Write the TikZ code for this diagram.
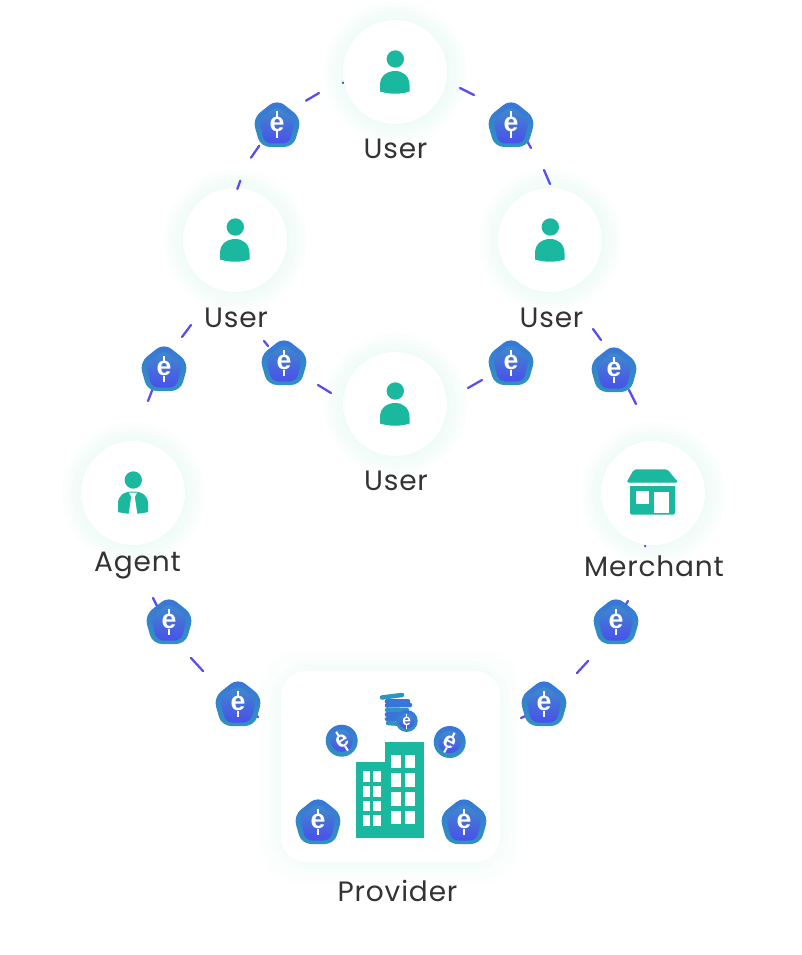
\documentclass[tikz,border=0pt]{standalone}
\usepackage{fontspec}
\setmainfont[LetterSpace=3]{Poppins}
\newfontfamily\coinfont{Liberation Sans}
\definecolor{tealc}{HTML}{1BB8A0}
\definecolor{dashc}{HTML}{5A4CF0}
\definecolor{inkc}{HTML}{333333}
\definecolor{glowc}{HTML}{EFFBF8}
\definecolor{coinA}{HTML}{3A74DA}
\definecolor{coinB}{HTML}{2E94C0}
\definecolor{coinC}{HTML}{3F8CCB}
\definecolor{coinD}{HTML}{4A50EA}
\pgfdeclareradialshading{glowshade}{\pgfpointorigin}{
  color(0bp)=(glowc); color(17bp)=(glowc); color(21bp)=(glowc!60!white); color(25bp)=(white)}
\tikzset{
  glow/.style={shading=glowshade,draw=none},
  disc/.style={circle,fill=white,minimum size=78pt,inner sep=0pt},
  lab/.style={font=\fontsize{21}{25}\selectfont,text=inkc,inner sep=0pt},
  seg/.style={draw=dashc,line width=1.7pt,line cap=round},
  icon/.style={fill=tealc,draw=none},
  hole/.style={fill=white,draw=none},
  coinmark/.style={text=white,inner sep=0pt,font=\coinfont\bfseries\fontsize{20}{20}\selectfont,transform shape},
}
\newcommand{\seglink}[5]{%
  \coordinate (#1a) at (#2,#3); \coordinate (#1b) at (#4,#5);
  \draw[seg] (#1a) -- (#1b);}
\newcommand{\coinface}[3]{%
  \begin{scope}[shift={(#1)},scale=#2,rotate=#3]
  \node[coinmark] at (0,0.5) {e};
  \fill[white] (-1.2,-12.5) rectangle (1.2,-5.5);
  \fill[white] (-1.2,7.5) rectangle (1.2,14);
  \end{scope}}
\newcommand{\coin}[4]{%
  \coordinate (#1) at (#2,#3);
  \begin{scope}[shift={(#1)},scale=#4]
  \shade[top color=coinA,bottom color=coinB,rounded corners=7pt]
    (0,-25)--(24.5,-5.5)--(16.5,23)--(-16.5,23)--(-24.5,-5.5)--cycle;
  \shade[top color=coinC,bottom color=coinD,rounded corners=5pt]
    (0,-18)--(18,-4)--(12.5,19.5)--(-12.5,19.5)--(-18,-4)--cycle;
  \end{scope}
  \coinface{#1}{#4}{0}}
\newcommand{\roundcoin}[5]{%
  \coordinate (#1) at (#2,#3);
  \begin{scope}[shift={(#1)}]
  \shade[top color=coinA,bottom color=coinB] (0,0) circle[radius=#4];
  \shade[top color=coinC,bottom color=coinD] (0,0) circle[radius=#4*0.7];
  \end{scope}
  \coinface{#1}{#4/19}{#5}}
\newcommand{\person}[2]{%
  \coordinate (#1) at (#2);
  \begin{scope}[shift={(#1)}]
  \fill[icon] (0.3,-13) circle[radius=8.7];
  \fill[icon] (-15,19.5) -- (-15,13) .. controls (-15,4) and (-8,-1) .. (0.3,-1)
     .. controls (8,-1) and (14.5,4) .. (14.5,13) -- (14.5,19.5)
     .. controls (5,22.5) and (-5,22.5) .. (-15,19.5) -- cycle;
  \end{scope}}
\begin{document}
\begin{tikzpicture}[x=0.75pt,y=-0.75pt]
\useasboundingbox (0,0) rectangle (801,955);
% glows
\foreach \gx/\gy in {395/72,235/240,550/240,395/404,133/493,653/493}
  \shade[glow] (\gx,\gy) circle[radius=74];
% provider glow
\foreach \pad/\op in {22/.10,18/.12,14/.15,10/.2,6/.3,3/.4}
  \fill[glowc,opacity=\op,rounded corners=30pt]
    (281-\pad,671-\pad) rectangle (500+\pad,862+\pad);
% discs
\node[disc] (u1) at (395,72) {};
\node[disc] (u2) at (235,240) {};
\node[disc] (u3) at (550,240) {};
\node[disc] (u4) at (395,404) {};
\node[disc] (ag) at (133,493) {};
\node[disc] (me) at (653,493) {};
\node[fill=white,rounded corners=19pt,minimum width=164.25pt,minimum height=143.25pt,inner sep=0pt] (pr) at (390.5,766.5) {};
% connector fragments
\seglink{s1}{342.7}{82.7}{343.2}{83}
\seglink{s2}{306}{100.7}{319}{93}
\seglink{s3}{259.3}{145.7}{251}{157.7}
\seglink{s4}{240.3}{180.7}{237.3}{189}
\seglink{s5}{460}{88}{474}{95}
\seglink{s6}{522}{132}{531}{148}
\seglink{s7}{544}{170}{550}{184}
\seglink{s8}{191}{325}{182}{337}
\seglink{s9}{153}{388}{148}{401}
\seglink{s10}{264}{341}{268}{346}
\seglink{s11}{318}{385}{331}{393}
\seglink{s12}{468}{388}{482}{380}
\seglink{s13}{593}{329}{601}{340}
\seglink{s14}{629}{390}{636}{404}
\seglink{s15}{645}{546}{645.4}{546.3}
\seglink{s16}{628}{601}{625}{606}
\seglink{s17}{588}{661}{577}{673}
\seglink{s18}{530}{714}{521}{718}
\seglink{s19}{153}{598}{157}{606}
\seglink{s20}{191}{658}{203}{671}
\seglink{s21}{252}{712}{258}{717}
% coins
\coin{c1}{277}{124}{1}
\coin{c2}{511}{124}{1}
\coin{c3}{164}{368}{1}
\coin{c4}{284}{362}{1}
\coin{c5}{511}{362}{1}
\coin{c6}{614}{369}{1}
\coin{c7}{169}{621}{1}
\coin{c8}{616}{621}{1}
\coin{c9}{238}{703}{1}
\coin{c10}{544}{703}{1}
\coin{c11}{318}{821}{1}
\coin{c12}{464}{821}{1}
% people
\person{p1}{395,72}
\person{p2}{235,240}
\person{p3}{550,240}
\person{p4}{395,404}
% agent
\coordinate (ai) at (133,493);
\begin{scope}[shift={(ai)}]
\fill[icon] (0.3,-13) circle[radius=8.7];
\fill[icon] (-15,19) -- (-15,11) .. controls (-15,3) and (-10,-1.5) .. (0,-1.5)
   .. controls (10,-1.5) and (15,3) .. (15,11) -- (15,19)
   .. controls (5,21.5) and (-5,21.5) .. (-15,19) -- cycle;
\fill[hole] (-4,-0.5) -- (4,-0.5) -- (1.8,4) -- (4.3,21) -- (-4.3,21) -- (-1.8,4) -- cycle;
\end{scope}
% merchant
\coordinate (mi) at (653,493);
\begin{scope}[shift={(mi)}]
\fill[icon,rounded corners=1pt] (-23,-10) rectangle (22,21.5);
\fill[hole] (-25,-11) rectangle (24.5,-7);
\fill[icon,rounded corners=1.5pt] (-19,-23.7) -- (14.5,-23.7) -- (25,-10.5) -- (-26.5,-10.5) -- cycle;
\foreach \k in {0,...,7}
  \fill[icon] (-25+\k*6.15,-11) arc[start angle=180,end angle=360,radius=3.07] -- cycle;
\fill[hole] (-17,-2) rectangle (-4,11);
\fill[hole] (1,-1) rectangle (16,20);
\end{scope}
% building
\coordinate (bl) at (356,762);
\coordinate (br) at (385,742);
\fill[icon] (bl) rectangle (385,838);
\fill[icon] (br) rectangle (424,838);
\foreach \wy/\wh in {771/11,786/11,801/10,815/11}
  \foreach \wx/\ww in {362.7/7.3,373/8}
    \fill[hole] (\wx,\wy) rectangle ++(\ww,\wh);
\foreach \wy/\wh in {755/13,773/14,792/14,811/13}
  \foreach \wx in {391,405}
    \fill[hole] (\wx,\wy) rectangle ++(10,\wh);
% coin stack
\coordinate (st) at (395,705);
\begin{scope}[line width=3.4pt,line cap=round]
\draw[coinB] (382,697.5) -- (402,695);
\draw[coinA] (387,701.5) -- (408,701.5);
\draw[coinA] (387,705.5) -- (410,705);
\draw[coinB] (387,710) -- (407,710);
\draw[coinA] (387,714.5) -- (407,714.5);
\draw[coinA] (387,719) -- (405,719);
\draw[coinB] (388,723) -- (402,724);
\end{scope}
\roundcoin{c13}{406.7}{721}{11}{0}
\roundcoin{c14}{341.7}{740.7}{16}{32}
\roundcoin{c15}{449.7}{742}{16}{-28}
% labels
\node[lab] (t1) at (395.5,148.5) {User};
\node[lab] (t2) at (236,317.5) {User};
\node[lab] (t3) at (551.5,317.5) {User};
\node[lab] (t4) at (396,480.5) {User};
\node[lab] (t5) at (137.5,566) {Agent};
\node[lab] (t6) at (654,566) {Merchant};
\node[lab] (t7) at (397.5,891) {Provider};
\end{tikzpicture}
\end{document}
